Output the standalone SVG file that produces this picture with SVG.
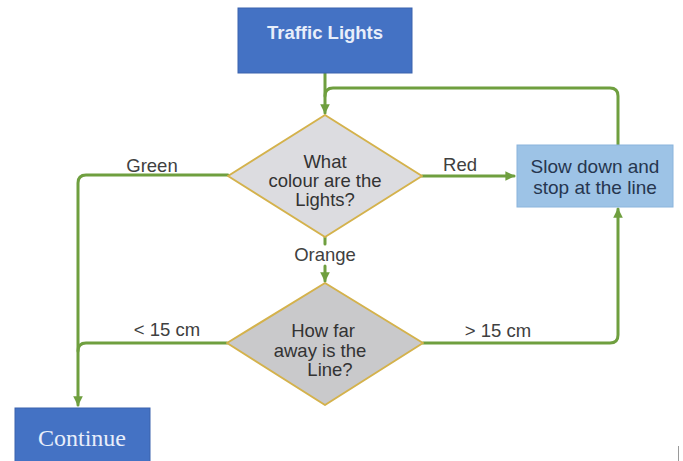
<svg xmlns="http://www.w3.org/2000/svg" width="683" height="461" viewBox="0 0 683 461">
  <style>
    .flow { fill: none; stroke: #6f9f3f; stroke-width: 3; stroke-linecap: round; stroke-linejoin: round; }
    .arrow { marker-end: url(#head); }
    .term { fill: #4472c4; stroke: #3a62ad; stroke-width: 1; }
    .term-text { font-family: "Liberation Sans", Arial, sans-serif; font-weight: bold; font-size: 18.5px; fill: #e8eefa; text-anchor: middle; }
    .end-text { font-family: "Liberation Serif", "Times New Roman", serif; font-size: 24px; fill: #e8eefa; text-anchor: middle; }
    .decision { stroke: #d4b24c; stroke-width: 2; stroke-linejoin: round; }
    .q-text { font-family: "Liberation Sans", Arial, sans-serif; font-size: 18.5px; fill: #333; text-anchor: middle; }
    .act { fill: #9dc3e6; stroke: #8ab4dc; stroke-width: 1; }
    .act-text { font-family: "Liberation Sans", Arial, sans-serif; font-size: 19px; fill: #26364f; text-anchor: middle; }
    .lbl { font-family: "Liberation Sans", Arial, sans-serif; font-size: 18.5px; fill: #404040; text-anchor: middle; }
  </style>
  <defs>
    <marker id="head" viewBox="0 0 10 10" refX="9" refY="5" markerWidth="3.2" markerHeight="3.2" orient="auto" markerUnits="strokeWidth">
      <path d="M0,0 L10,5 L0,10 Z" fill="#6f9f3f"/>
    </marker>
  </defs>

  <rect width="683" height="461" fill="#ffffff"/>

  <!-- connectors -->
  <g id="connectors">
    <!-- start to first question -->
    <path class="flow arrow" d="M325,73 L325,113"/>
    <!-- loop back from "Slow down" to the top of the first question -->
    <path class="flow" d="M618,145 L618,96 Q618,88 610,88 L333,88 Q325,88 325,96"/>
    <!-- Red -->
    <path class="flow arrow" d="M422,176 L514,176"/>
    <!-- Green -->
    <path class="flow arrow" d="M228,175 L86,175 Q78,175 78,183 L78,405"/>
    <!-- Orange -->
    <path class="flow" d="M325,237 L325,244"/>
    <path class="flow arrow" d="M325,266 L325,281"/>
    <!-- < 15 cm -->
    <path class="flow" d="M227,343 L86,343 Q78,343 78,351"/>
    <!-- > 15 cm -->
    <path class="flow arrow" d="M423,343 L610,343 Q618,343 618,335 L618,209"/>
  </g>

  <!-- edge labels -->
  <g id="edge-labels">
    <text class="lbl" x="152" y="172">Green</text>
    <text class="lbl" x="460" y="171">Red</text>
    <text class="lbl" x="325" y="261">Orange</text>
    <text class="lbl" x="167" y="336">&lt; 15 cm</text>
    <text class="lbl" x="498" y="337">&gt; 15 cm</text>
  </g>

  <g id="start">
    <rect class="term" x="238" y="8" width="174" height="65"/>
    <text class="term-text" x="325" y="39">Traffic Lights</text>
  </g>

  <g id="q-colour">
    <polygon class="decision" fill="#dcdce0" points="325,115 422,176 325,237 228,176"/>
    <text class="q-text" x="325" y="168">What</text>
    <text class="q-text" x="325" y="187">colour are the</text>
    <text class="q-text" x="325" y="206">Lights?</text>
  </g>

  <g id="slow-down">
    <rect class="act" x="517" y="145" width="156" height="62"/>
    <text class="act-text" x="595" y="173">Slow down and</text>
    <text class="act-text" x="595" y="194">stop at the line</text>
  </g>

  <g id="q-distance">
    <polygon class="decision" fill="#c9c9cb" points="325,283 423,343 325,405 227,343"/>
    <text class="q-text" x="323" y="337">How far</text>
    <text class="q-text" x="320" y="357">away is the</text>
    <text class="q-text" x="330" y="376">Line?</text>
  </g>

  <g id="continue">
    <rect class="term" x="15" y="408" width="135" height="60"/>
    <text class="end-text" x="82" y="446">Continue</text>
  </g>

  <!-- thin edge mark at bottom right -->
  <line x1="678.5" y1="446" x2="678.5" y2="461" stroke="#9a9a9a" stroke-width="1"/>
</svg>
